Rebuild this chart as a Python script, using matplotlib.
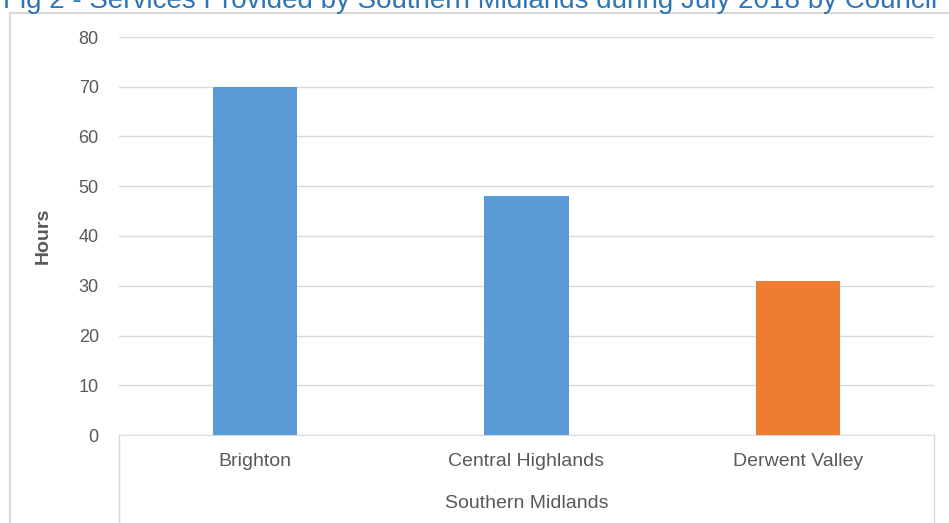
import matplotlib.pyplot as plt
from matplotlib.lines import Line2D

councils = ["Brighton", "Central Highlands", "Derwent Valley"]
hours = [70, 48, 31]
bar_colors = ["#5B9BD5", "#5B9BD5", "#ED7D31"]
group_label = "Southern Midlands"
title = "Fig 2 - Services Provided by Southern Midlands during July 2018 by Council"

W, H = 949, 523
plt.rcParams["font.family"] = ["Liberation Sans", "DejaVu Sans"]

fig = plt.figure(figsize=(W / 100, H / 100), dpi=100)

# plot area in pixels: left, right, top, bottom
L, R, T, B = 119, 934, 37, 435
ax = fig.add_axes([L / W, 1 - B / H, (R - L) / W, (B - T) / H])

x = range(len(councils))
ax.bar(x, hours, width=0.31, color=bar_colors, zorder=3)
ax.set_xlim(-0.5, len(councils) - 0.5)
ax.set_ylim(0, 80)
ax.set_yticks(range(0, 81, 10))
ax.yaxis.grid(True, color="#D9D9D9", lw=1, zorder=0)
for s in ["left", "right", "top"]:
    ax.spines[s].set_visible(False)
ax.spines["bottom"].set_color("#D9D9D9")
ax.tick_params(axis="y", length=0, pad=14.5, labelsize=13, labelcolor="#595959")
ax.tick_params(axis="x", length=0, pad=13, labelsize=14, labelcolor="#595959")
ax.set_xticks(list(x))
ax.set_xticklabels(councils)
ax.set_ylabel("Hours", fontsize=14, fontweight="bold", color="#595959", labelpad=19)

# grouped category axis: outer separators and group name
grey = "#D9D9D9"
for px in (L, R):
    fig.add_artist(Line2D([px / W, px / W], [1 - B / H, 0], color=grey, lw=1))
fig.text((L + R) / 2 / W, 1 - 503 / H, group_label, ha="center", va="center",
         fontsize=14, color="#595959")

# chart border (only top and left show inside the frame)
fig.add_artist(Line2D([10 / W, 10 / W], [0, 1 - 13 / H], color=grey, lw=1.5))
fig.add_artist(Line2D([10 / W, 1], [1 - 13 / H, 1 - 13 / H], color=grey, lw=1.5))

# title runs past the top edge
fig.text(3 / W, 1 - 8 / H, title, ha="left", va="baseline", fontsize=20, color="#2E75B6")

fig.savefig("out.png", dpi=100)
